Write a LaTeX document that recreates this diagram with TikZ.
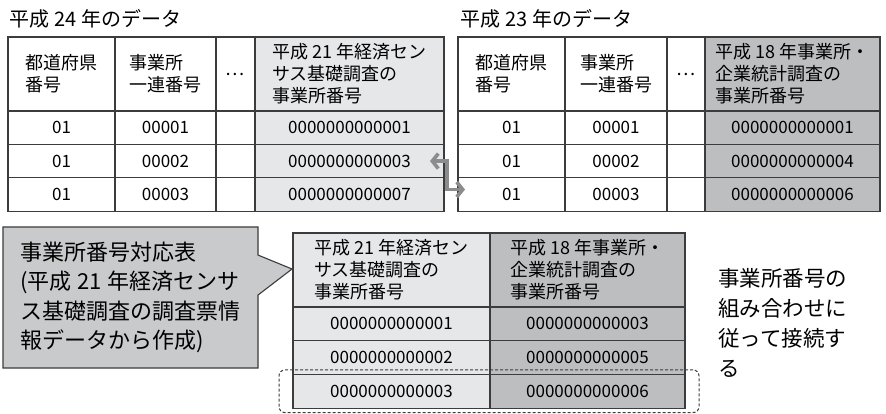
\documentclass[tikz,border=0pt]{standalone}
\usepackage{fontspec}
\setmainfont{Noto Sans CJK JP}
\usetikzlibrary{positioning,arrows.meta,shapes.callouts,fit}
\definecolor{rule}{HTML}{3C3C3C}
\definecolor{paleg}{HTML}{E6E7E8}
\definecolor{darkg}{HTML}{BDBEC0}
\definecolor{boxg}{HTML}{C9CACB}
\definecolor{arrowg}{HTML}{8C8C8C}
\newcommand{\jsp}{\hspace{0.25em}}

\begin{document}
\begin{tikzpicture}
	[x=1pt,y=-1pt,
	 every node/.style={font=\fontsize{17}{22}\selectfont},
	 cell/.style={rectangle,draw=rule,line width=1.1pt,outer sep=0pt,inner sep=0pt},
	 hd/.style={cell,minimum height=74pt,minimum width=#1,align=left,font=\fontsize{18}{22}\selectfont},
	 td/.style={cell,minimum height=33.4pt,minimum width=#1,align=center},
	 tb/.style={cell,minimum height=33.7pt,minimum width=#1,align=center},
	 title/.style={anchor=west,inner sep=0pt,font=\fontsize{20}{24}\selectfont},
	 link/.style={arrowg,line width=3.6pt,{Straight Barb[length=6pt,width=15pt]}-{Straight Barb[length=6pt,width=15pt]}}]
	\useasboundingbox (0,0) rectangle (886,414);
	% data of H24
	\node[title] (t24) at (9,19) {平成\jsp 24\jsp 年のデータ};
	\node[hd=107pt,anchor=north west] (lh1) at (8,37) {都道府県\\番号};
	\node[hd=101pt] (lh2) [right=0pt of lh1] {事業所\\一連番号};
	\node[hd=39pt]  (lh3) [right=0pt of lh2] {…};
	\node[hd=189pt,fill=paleg] (lh4) [right=0pt of lh3] {平成\jsp 21\jsp 年経済セン\\サス基礎調査の\\事業所番号};
	\node[td=107pt] (l11) [below=0pt of lh1] {01};
	\node[td=101pt] (l12) [right=0pt of l11] {00001};
	\node[td=39pt]  (l13) [right=0pt of l12] {};
	\node[td=189pt,fill=paleg] (l14) [right=0pt of l13] {0000000000001};
	\node[td=107pt] (l21) [below=0pt of l11] {01};
	\node[td=101pt] (l22) [right=0pt of l21] {00002};
	\node[td=39pt]  (l23) [right=0pt of l22] {};
	\node[td=189pt,fill=paleg] (l24) [right=0pt of l23] {0000000000003};
	\node[td=107pt] (l31) [below=0pt of l21] {01};
	\node[td=101pt] (l32) [right=0pt of l31] {00003};
	\node[td=39pt]  (l33) [right=0pt of l32] {};
	\node[td=189pt,fill=paleg] (l34) [right=0pt of l33] {0000000000007};
	% data of H23
	\node[title] (t23) at (460,19) {平成\jsp 23\jsp 年のデータ};
	\node[hd=107pt,anchor=north west] (rh1) at (458,37) {都道府県\\番号};
	\node[hd=102pt] (rh2) [right=0pt of rh1] {事業所\\一連番号};
	\node[hd=38pt]  (rh3) [right=0pt of rh2] {…};
	\node[hd=175pt,fill=darkg] (rh4) [right=0pt of rh3] {平成\jsp 18\jsp 年事業所・\\企業統計調査の\\事業所番号};
	\node[td=107pt] (r11) [below=0pt of rh1] {01};
	\node[td=102pt] (r12) [right=0pt of r11] {00001};
	\node[td=38pt]  (r13) [right=0pt of r12] {};
	\node[td=175pt,fill=darkg] (r14) [right=0pt of r13] {0000000000001};
	\node[td=107pt] (r21) [below=0pt of r11] {01};
	\node[td=102pt] (r22) [right=0pt of r21] {00002};
	\node[td=38pt]  (r23) [right=0pt of r22] {};
	\node[td=175pt,fill=darkg] (r24) [right=0pt of r23] {0000000000004};
	\node[td=107pt] (r31) [below=0pt of r21] {01};
	\node[td=102pt] (r32) [right=0pt of r31] {00003};
	\node[td=38pt]  (r33) [right=0pt of r32] {};
	\node[td=175pt,fill=darkg] (r34) [right=0pt of r33] {0000000000006};
	% correspondence table
	\node[hd=197pt,fill=paleg,anchor=north west] (bh1) at (293,233) {平成\jsp 21\jsp 年経済セン\\サス基礎調査の\\事業所番号};
	\node[hd=195pt,fill=darkg] (bh2) [right=0pt of bh1] {平成\jsp 18\jsp 年事業所・\\企業統計調査の\\事業所番号};
	\node[tb=197pt,fill=paleg] (b11) [below=0pt of bh1] {0000000000001};
	\node[tb=195pt,fill=darkg] (b12) [right=0pt of b11] {0000000000003};
	\node[tb=197pt,fill=paleg] (b21) [below=0pt of b11] {0000000000002};
	\node[tb=195pt,fill=darkg] (b22) [right=0pt of b21] {0000000000005};
	\node[tb=197pt,fill=paleg] (b31) [below=0pt of b21] {0000000000003};
	\node[tb=195pt,fill=darkg] (b32) [right=0pt of b31] {0000000000006};
	\node[draw=rule,line width=1pt,dash pattern=on 3pt off 2pt,rounded corners=6pt,
	      inner xsep=14pt,inner ysep=4.5pt,fit=(b31)(b32)] (pick) {};
	% callout and note
	\node[rectangle callout,draw=rule,fill=boxg,line width=1.1pt,
	      minimum width=255pt,minimum height=141pt,
	      callout absolute pointer={(292,269)},callout pointer width=40pt,
	      align=left,font=\fontsize{22}{29.3}\selectfont] (memo) at (130.5,297.5)
	      {事業所番号対応表\\(平成\jsp 21\jsp 年経済センサ\\ス基礎調査の調査票情\\報データから作成)};
	\node[anchor=north west,inner sep=0pt,align=left,font=\fontsize{21.5}{30}\selectfont]
	      (how) at (718,268) {事業所番号の\\組み合わせに\\従って接続す\\る};
	% link between the two years
	\coordinate (ja) at ([xshift=-14pt]l24.east);
	\coordinate (jb) at ([xshift=7pt,yshift=5pt]r31.west);
	\draw[link] (ja) -- ++(17,0) |- (jb);
\end{tikzpicture}
\end{document}
